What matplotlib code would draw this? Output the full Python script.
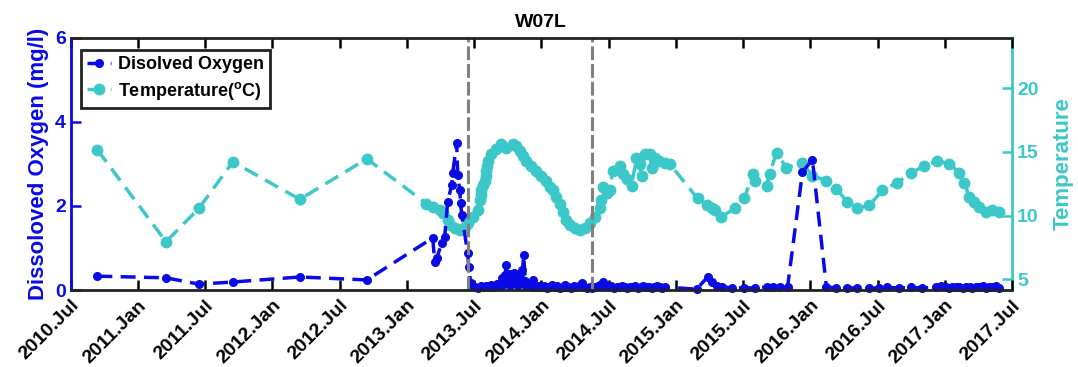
import matplotlib
matplotlib.use("Agg")
import matplotlib.pyplot as plt

plt.rcParams['font.family'] = ['Liberation Sans', 'DejaVu Sans']
plt.rcParams['font.weight'] = 'bold'
plt.rcParams['axes.labelweight'] = 'bold'
plt.rcParams['mathtext.fontset'] = 'custom'
plt.rcParams['mathtext.rm'] = 'Liberation Sans:bold'

# --- data (decimal years) ---
temp_year = [2010.70, 2011.21, 2011.455, 2011.707, 2012.205, 2012.703,
             2013.146, 2013.195, 2013.245, 2013.270, 2013.307, 2013.320, 2013.357, 2013.394,
             2013.431, 2013.455, 2013.493, 2013.530, 2013.543, 2013.549, 2013.555, 2013.567,
             2013.580, 2013.586, 2013.592, 2013.598, 2013.604, 2013.629, 2013.666, 2013.704,
             2013.741, 2013.790, 2013.815, 2013.840, 2013.864, 2013.889, 2013.926, 2013.964,
             2014.001, 2014.038, 2014.062, 2014.087, 2014.112, 2014.137, 2014.161, 2014.186,
             2014.211, 2014.248, 2014.285, 2014.322, 2014.359, 2014.397, 2014.434, 2014.445,
             2014.456, 2014.486, 2014.508, 2014.531, 2014.582, 2014.605, 2014.634, 2014.671,
             2014.708, 2014.731, 2014.746, 2014.768, 2014.805, 2014.820, 2014.842, 2014.879,
             2014.917, 2014.954,
             2015.162, 2015.229, 2015.266, 2015.288, 2015.340, 2015.437, 2015.511, 2015.571,
             2015.586, 2015.675, 2015.697, 2015.749, 2015.823, 2015.942, 2016.016, 2016.120,
             2016.194, 2016.276, 2016.350, 2016.440, 2016.536, 2016.648, 2016.752, 2016.849,
             2016.945, 2017.035, 2017.109, 2017.146, 2017.183, 2017.220, 2017.257, 2017.309,
             2017.354, 2017.406]
temp_val = [15.16, 7.95, 10.58, 14.22, 11.28, 14.46,
            10.95, 10.68, 10.43, 10.17, 9.65, 9.26, 9.01, 8.88,
            9.13, 9.40, 9.91, 10.43, 11.20, 11.60, 11.98, 12.40,
            12.75, 13.10, 13.53, 13.90, 14.30, 14.82, 15.21, 15.60,
            15.33, 15.60, 15.47, 15.08, 14.69, 14.30, 13.91, 13.53,
            13.14, 12.75, 12.23, 11.98, 11.46, 10.95, 10.29, 9.65,
            9.26, 9.01, 8.88, 9.01, 9.40, 9.91, 10.60, 11.20,
            12.21, 11.74, 11.98, 13.53, 13.91, 13.29, 12.91, 12.36,
            14.53, 14.07, 13.14, 14.84, 14.84, 13.76, 14.53, 14.30,
            14.15, 14.07,
            11.36, 10.81, 10.58, 10.43, 9.88, 10.58, 11.36, 13.29,
            12.75, 12.36, 13.29, 14.92, 13.76, 14.15, 13.14, 12.75,
            12.13, 11.05, 10.58, 10.81, 11.98, 12.60, 13.37, 13.91,
            14.30, 14.07, 13.37, 12.60, 11.43, 11.05, 10.66, 10.27,
            10.43, 10.27]

do_year = [2010.70, 2011.21, 2011.455, 2011.707, 2012.205, 2012.703,
           2013.193, 2013.208, 2013.223, 2013.260, 2013.282, 2013.304, 2013.334, 2013.342,
           2013.371, 2013.379, 2013.394, 2013.400, 2013.409, 2013.453, 2013.460, 2013.475,
           2013.49, 2013.51, 2013.53, 2013.55, 2013.57, 2013.59, 2013.61, 2013.63, 2013.65,
           2013.67, 2013.69, 2013.71, 2013.72, 2013.73, 2013.74, 2013.75, 2013.76, 2013.77,
           2013.78, 2013.79, 2013.80, 2013.81, 2013.82, 2013.83, 2013.84, 2013.85, 2013.86,
           2013.87, 2013.88, 2013.89, 2013.91, 2013.93, 2013.94, 2013.96, 2013.98, 2014.00,
           2014.02, 2014.04, 2014.06, 2014.08, 2014.10, 2014.12, 2014.14, 2014.16, 2014.18,
           2014.20, 2014.22, 2014.24, 2014.26, 2014.28, 2014.30, 2014.32, 2014.34, 2014.36,
           2014.38, 2014.40, 2014.42, 2014.44, 2014.46, 2014.48, 2014.50, 2014.52, 2014.54,
           2014.56, 2014.58, 2014.60, 2014.62, 2014.64, 2014.66, 2014.68, 2014.70, 2014.72,
           2014.74, 2014.76, 2014.78, 2014.80, 2014.82, 2014.84, 2014.86, 2014.88, 2014.90,
           2014.92,
           2015.155, 2015.237, 2015.273, 2015.310, 2015.347, 2015.420, 2015.511, 2015.586,
           2015.675, 2015.720, 2015.772, 2015.831, 2015.942, 2016.016, 2016.120, 2016.194,
           2016.276, 2016.350, 2016.440, 2016.514, 2016.573, 2016.663, 2016.752, 2016.834,
           2016.938, 2016.975, 2017.012, 2017.035, 2017.057, 2017.085, 2017.109, 2017.135,
           2017.161, 2017.185, 2017.205, 2017.230, 2017.257, 2017.285, 2017.309, 2017.330,
           2017.354, 2017.380, 2017.406]
do_val = [0.33, 0.29, 0.14, 0.19, 0.31, 0.24,
          1.24, 0.67, 0.76, 1.12, 1.26, 2.10, 2.50, 2.79,
          3.50, 2.74, 2.38, 2.07, 1.79, 0.88, 0.55, 0.17,
          0.06, 0.08, 0.05, 0.09, 0.07, 0.10, 0.06, 0.12, 0.08,
          0.15, 0.10, 0.28, 0.15, 0.35, 0.60, 0.22, 0.38, 0.12,
          0.33, 0.18, 0.40, 0.15, 0.30, 0.12, 0.36, 0.20, 0.48,
          0.83, 0.22, 0.10, 0.14, 0.08, 0.24, 0.07, 0.10, 0.06,
          0.09, 0.05, 0.08, 0.11, 0.06, 0.09, 0.05, 0.08, 0.12,
          0.07, 0.05, 0.09, 0.06, 0.10, 0.16, 0.07, 0.05, 0.08,
          0.04, 0.06, 0.09, 0.12, 0.20, 0.10, 0.07, 0.09, 0.05,
          0.08, 0.06, 0.10, 0.07, 0.05, 0.08, 0.06, 0.09, 0.05,
          0.07, 0.10, 0.06, 0.08, 0.05, 0.07, 0.09, 0.06, 0.04,
          0.07,
          0.02, 0.31, 0.19, 0.10, 0.07, 0.05, 0.05, 0.05,
          0.07, 0.06, 0.06, 0.07, 2.81, 3.10, 0.07, 0.05,
          0.05, 0.05, 0.04, 0.05, 0.06, 0.05, 0.06, 0.05,
          0.06, 0.10, 0.07, 0.05, 0.08, 0.06, 0.07, 0.05,
          0.06, 0.08, 0.05, 0.07, 0.06, 0.10, 0.05, 0.08,
          0.06, 0.09, 0.05]

period_marks = [2013.453, 2014.374]
tick_pos = [2010.5 + 0.5 * i for i in range(15)]
tick_lab = ["%d.%s" % (int(t), "Jan" if t % 1 == 0 else "Jul") for t in tick_pos]

blue = '#0a0ae6'
cyan = '#3cc8c8'
dash = (4.3, 2.4)

fig = plt.figure(figsize=(10.78, 3.67), dpi=100)
ax = fig.add_axes([0.0654, 0.2098, 0.8734, 0.6867])
ax2 = ax.twinx()

ax2.plot(temp_year, temp_val, color=cyan, lw=2.5, dashes=dash, marker='o', ms=7.5,
         label='Temperature($^{\\mathrm{o}}$C)')
ax.plot(do_year, do_val, color=blue, lw=2.5, dashes=dash, marker='o', ms=5.5,
        label='Disolved Oxygen', clip_on=False)
for m in period_marks:
    ax.axvline(m, color='#808080', lw=2.2, dashes=(4.5, 1.3))

ax.set_zorder(ax2.get_zorder() + 1)
ax.patch.set_visible(False)

ax.set_xlim(2010.5, 2017.5)
ax.set_ylim(0, 6)
ax.set_yticks([0, 2, 4, 6])
ax2.set_ylim(4.16, 23.95)
ax2.set_yticks([5, 10, 15, 20])
ax.set_xticks(tick_pos)
ax.set_xticklabels(tick_lab, rotation=45, ha='right', rotation_mode='anchor', fontsize=14)

ax.tick_params(axis='x', direction='in', length=7, width=1.8, top=True, colors='black', pad=5)
ax.tick_params(axis='y', direction='in', length=7, width=1.8, colors=blue, labelsize=14)
ax2.tick_params(axis='y', direction='in', length=7, width=1.8, colors=cyan, labelsize=14)
ax2.tick_params(axis='x', top=False, bottom=False)

for sp in ['top', 'bottom']:
    ax.spines[sp].set_linewidth(2)
    ax.spines[sp].set_color('#222222')
ax.spines['left'].set_color(blue)
ax.spines['left'].set_linewidth(2)
ax.spines['right'].set_visible(False)
ax2.spines['right'].set_color(cyan)
ax2.spines['right'].set_linewidth(2)
for sp in ['top', 'bottom', 'left']:
    ax2.spines[sp].set_visible(False)

ax.set_ylabel('Dissoloved Oxygen (mg/l)', color=blue, fontsize=16, fontweight='bold', labelpad=4)
ax2.set_ylabel('Temperature', color=cyan, fontsize=16, fontweight='bold', labelpad=10)
ax.set_title('W07L', fontsize=14, fontweight='bold', pad=8)

h1, l1 = ax.get_legend_handles_labels()
h2, l2 = ax2.get_legend_handles_labels()
leg = ax.legend(h1 + h2, l1 + l2, loc='upper left', bbox_to_anchor=(0.011, 0.952),
                borderaxespad=0, fontsize=13, fancybox=False, framealpha=1,
                edgecolor='#222222', handlelength=1.3, handletextpad=0.4,
                borderpad=0.35, labelspacing=0.35)
leg.get_frame().set_linewidth(2)

fig.savefig('out.png', dpi=100)
